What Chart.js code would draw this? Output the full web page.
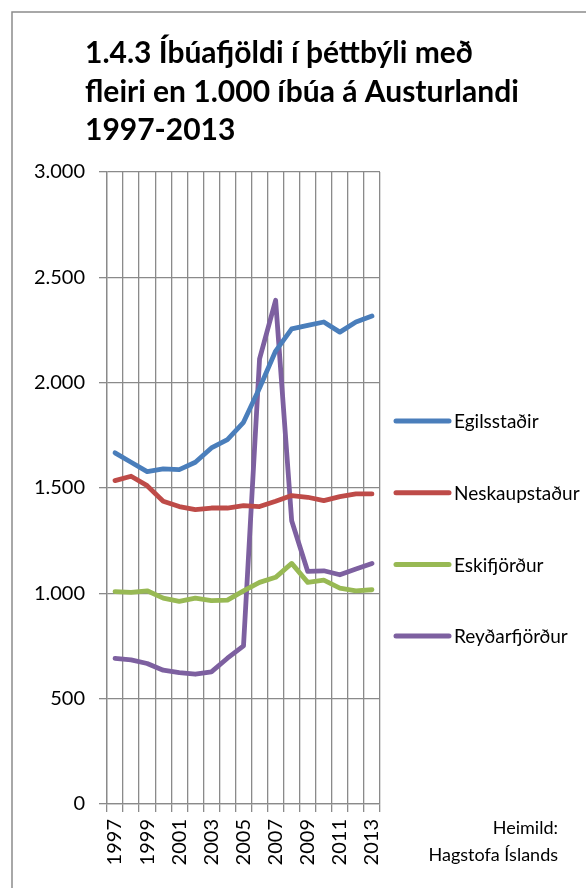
<!DOCTYPE html>
<html>
<head>
<meta charset="utf-8">
<script src="https://cdn.jsdelivr.net/npm/chart.js@4/dist/chart.umd.min.js"></script>
<style>
    html, body { margin: 0; padding: 0; background: #fff; }
    #chart { display: block; }
</style>
</head>
<body>
<canvas id="chart" width="586" height="888"></canvas>
<script>
'use strict';

const years = ['1997', '1998', '1999', '2000', '2001', '2002', '2003', '2004', '2005',
    '2006', '2007', '2008', '2009', '2010', '2011', '2012', '2013'];
const egilsstadir = [1667, 1622, 1578, 1591, 1587, 1622, 1690, 1730, 1812, 1975, 2150, 2255, 2272, 2288, 2240, 2288, 2316];
const neskaupstadur = [1535, 1556, 1511, 1437, 1412, 1397, 1405, 1405, 1416, 1412, 1437, 1464, 1456, 1440, 1459, 1472, 1472];
const eskifjordur = [1008, 1005, 1012, 977, 962, 977, 965, 968, 1012, 1052, 1076, 1142, 1052, 1063, 1025, 1012, 1017];
const reydarfjordur = [691, 684, 667, 635, 624, 616, 627, 692, 751, 2113, 2391, 1345, 1104, 1107, 1088, 1115, 1142];

const titleLines = ['1.4.3 Íbúafjöldi í þéttbýli með', 'fleiri en 1.000 íbúa á Austurlandi', '1997-2013'];
const sourceLines = ['Heimild:', 'Hagstofa Íslands'];

const gridColor = '#8a8a8a';
const fontFamily = 'Lato, "Open Sans", sans-serif';

function thousands(value) {
    return String(value).replace(/\B(?=(\d{3})+(?!\d))/g, '.');
}

const decorations = {
    id: 'decorations',
    beforeDraw(chart) {
        const ctx = chart.ctx;
        ctx.save();
        ctx.fillStyle = '#fff';
        ctx.fillRect(0, 0, chart.width, chart.height);
        ctx.strokeStyle = '#8c8c8c';
        ctx.lineWidth = 1.5;
        ctx.strokeRect(12, 12, chart.width + 20, chart.height + 20);
        ctx.restore();
    },
    afterDraw(chart) {
        const ctx = chart.ctx;
        ctx.save();
        ctx.fillStyle = '#000';
        ctx.textBaseline = 'alphabetic';
        ctx.textAlign = 'left';
        ctx.font = 'bold 30px ' + fontFamily;
        titleLines.forEach((line, i) => ctx.fillText(line, 85, 63 + i * 38.5));

        // legend, right of the plot
        ctx.font = '19px ' + fontFamily;
        ctx.textBaseline = 'middle';
        chart.data.datasets.forEach((ds, i) => {
            const y = 421 + i * 71.7;
            ctx.strokeStyle = ds.borderColor;
            ctx.lineWidth = 5;
            ctx.lineCap = 'round';
            ctx.beginPath();
            ctx.moveTo(396, y);
            ctx.lineTo(449, y);
            ctx.stroke();
            ctx.fillText(ds.label, 454, y + 1);
        });

        ctx.font = '18px ' + fontFamily;
        ctx.textAlign = 'right';
        ctx.textBaseline = 'alphabetic';
        ctx.fillText(sourceLines[0], 558, 834);
        ctx.fillText(sourceLines[1], 558, 861);
        ctx.restore();
    },
};

const lineStyle = {
    borderWidth: 4.8,
    pointRadius: 0,
    pointHoverRadius: 0,
    tension: 0,
    borderCapStyle: 'round',
    borderJoinStyle: 'round',
    fill: false,
};

const chartElement = document.getElementById('chart');
const chart = new Chart(chartElement, {
    type: 'line',
    data: {
        labels: years,
        datasets: [
            { label: 'Egilsstaðir', data: egilsstadir, borderColor: '#4A7EBB', ...lineStyle },
            { label: 'Neskaupstaður', data: neskaupstadur, borderColor: '#BE4B48', ...lineStyle },
            { label: 'Eskifjörður', data: eskifjordur, borderColor: '#98B954', ...lineStyle },
            { label: 'Reyðarfjörður', data: reydarfjordur, borderColor: '#7D60A0', ...lineStyle },
        ],
    },
    options: {
        responsive: false,
        animation: false,
        devicePixelRatio: 1,
        layout: {
            padding: { left: 0, top: 172, right: 206, bottom: 0 },
        },
        scales: {
            x: {
                type: 'category',
                offset: true,
                grid: {
                    offset: true,
                    color: gridColor,
                    lineWidth: 1.3,
                    tickLength: 8,
                },
                border: { color: gridColor, width: 1.3 },
                ticks: {
                    autoSkip: false,
                    minRotation: 90,
                    maxRotation: 90,
                    padding: 7,
                    color: '#000',
                    font: { family: fontFamily, size: 20 },
                    callback: function (value, index) {
                        return index % 2 === 0 ? this.getLabelForValue(value) : '';
                    },
                },
                afterFit: function (scale) {
                    scale.height = 84;
                    scale.paddingLeft = 0;
                    scale.paddingRight = 0;
                },
            },
            y: {
                min: 0,
                max: 3000,
                grid: {
                    color: gridColor,
                    lineWidth: 1.3,
                    tickLength: 8,
                },
                border: { color: gridColor, width: 1.3 },
                ticks: {
                    stepSize: 500,
                    padding: 14,
                    color: '#000',
                    font: { family: fontFamily, size: 20 },
                    callback: function (value) {
                        return thousands(value);
                    },
                },
                afterFit: function (scale) {
                    scale.width = 107;
                    scale.paddingTop = 0;
                    scale.paddingBottom = 0;
                },
            },
        },
        plugins: {
            legend: { display: false },
            title: { display: false },
            tooltip: { enabled: false },
        },
    },
    plugins: [decorations],
});
</script>
</body>
</html>
